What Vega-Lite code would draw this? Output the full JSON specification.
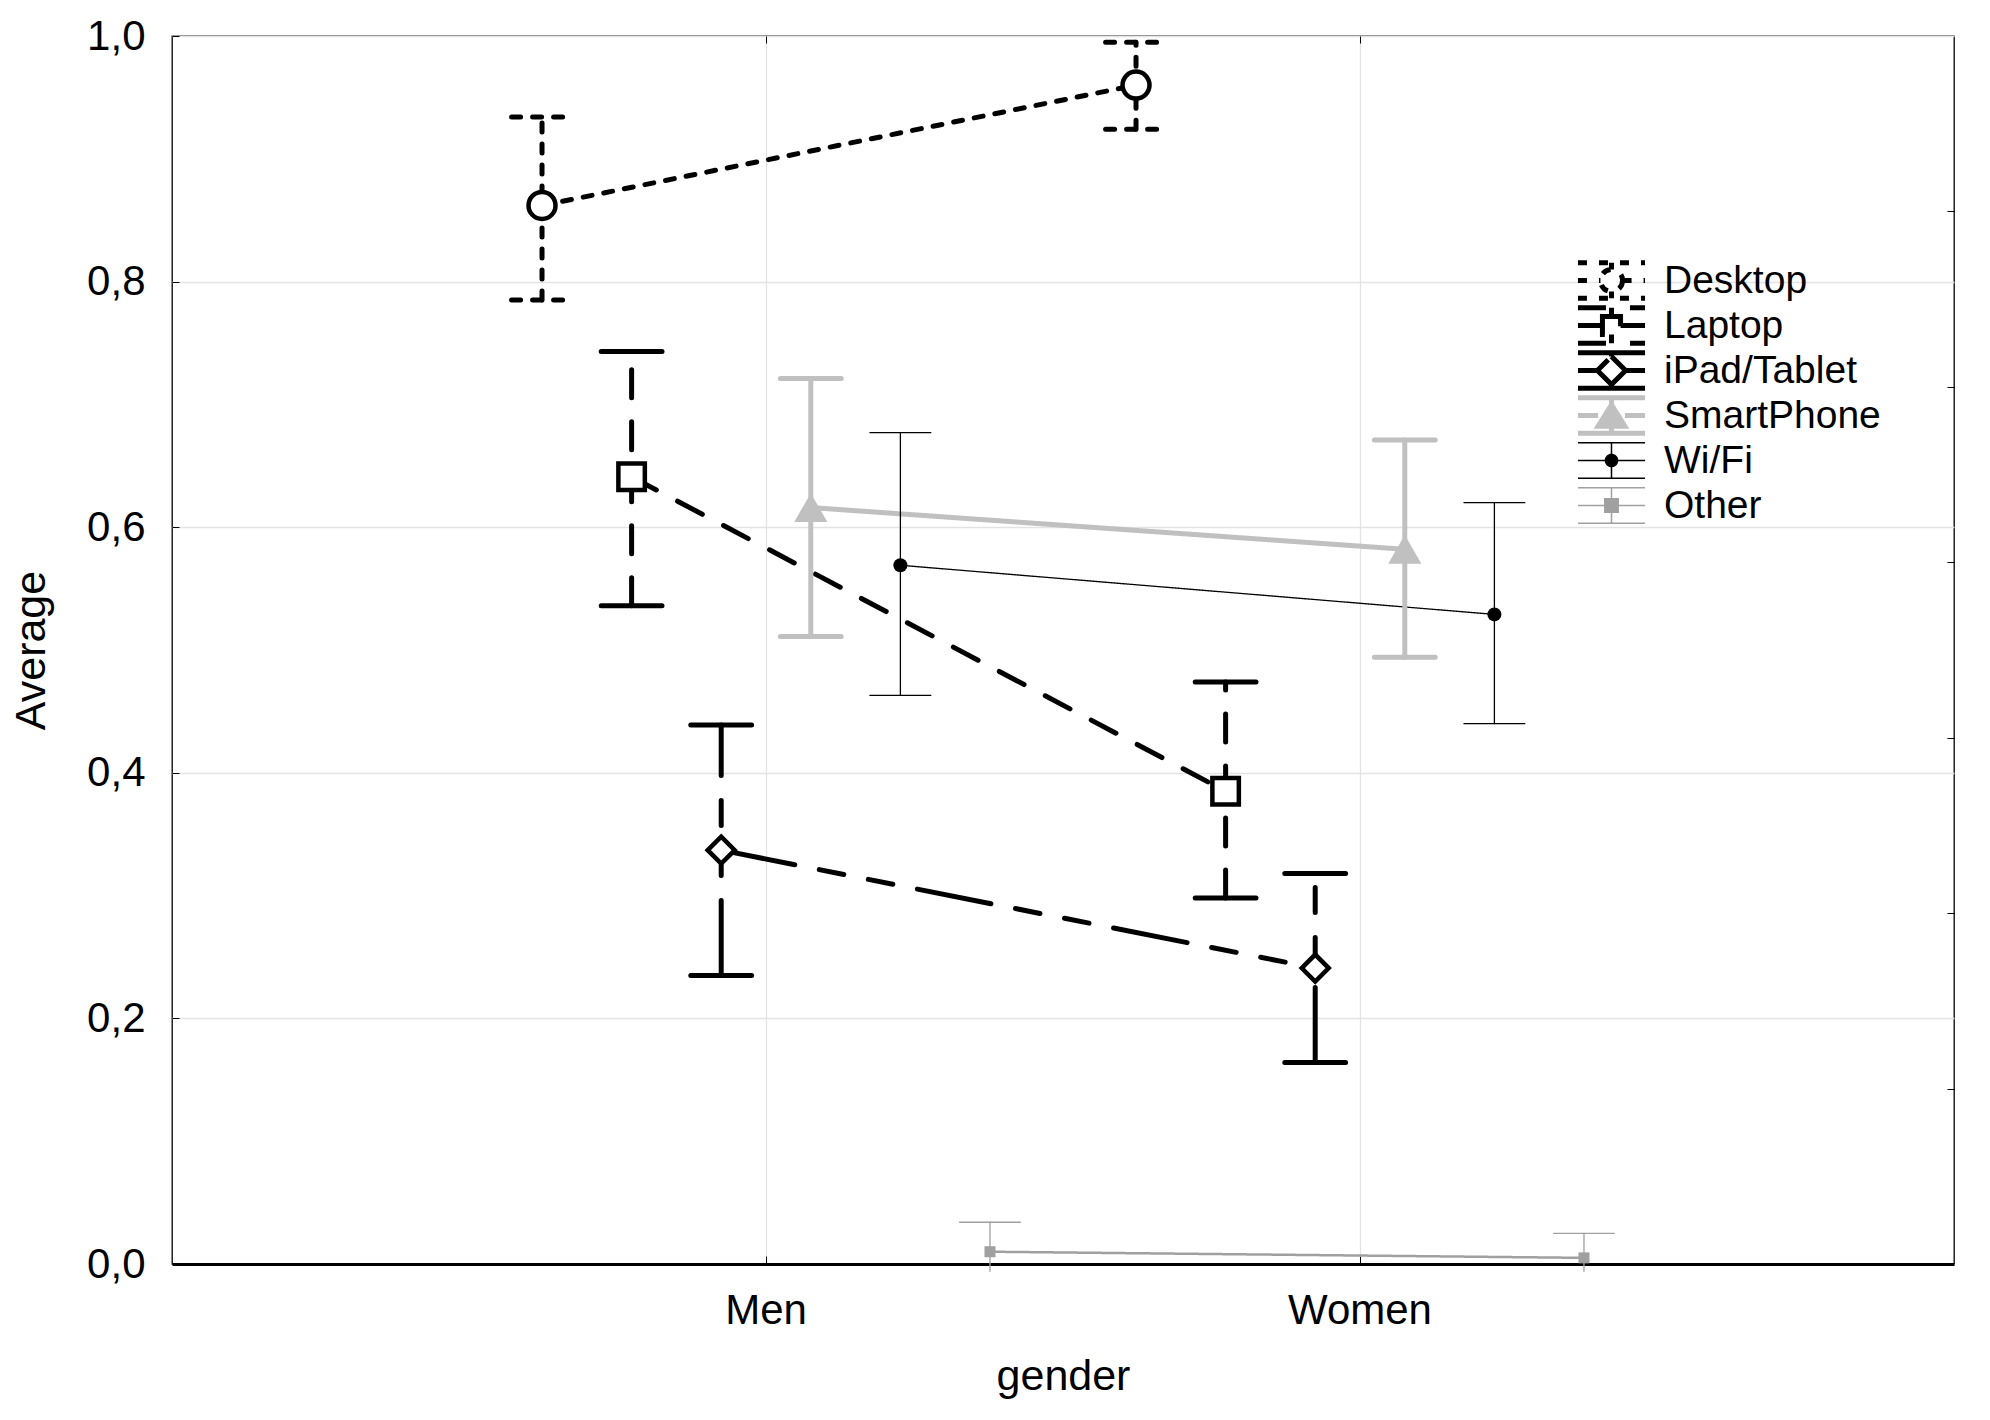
{
  "$schema": "https://vega.github.io/schema/vega-lite/v6.json",
  "width": 1782,
  "height": 1228,
  "autosize": "none",
  "padding": {"left": 172, "top": 36, "right": 36, "bottom": 156},
  "background": "white",
  "config": {
    "font": "Liberation Sans",
    "view": {"stroke": "black", "strokeWidth": 1.3},
    "axis": {
      "labelFontSize": 42,
      "titleFontSize": 43,
      "titleFontWeight": "normal",
      "labelColor": "black",
      "titleColor": "black",
      "tickColor": "black",
      "domainColor": "black",
      "gridColor": "#E3E3E3",
      "gridWidth": 1.3
    }
  },
  "data": {
    "values": [
      {"device": "Desktop", "gender": "Men", "mean": 0.862, "lower": 0.785, "upper": 0.934},
      {"device": "Desktop", "gender": "Women", "mean": 0.960, "lower": 0.924, "upper": 0.995},
      {"device": "Laptop", "gender": "Men", "mean": 0.641, "lower": 0.536, "upper": 0.743},
      {"device": "Laptop", "gender": "Women", "mean": 0.385, "lower": 0.298, "upper": 0.474},
      {"device": "iPad/Tablet", "gender": "Men", "mean": 0.337, "lower": 0.235, "upper": 0.439},
      {"device": "iPad/Tablet", "gender": "Women", "mean": 0.241, "lower": 0.164, "upper": 0.318},
      {"device": "SmartPhone", "gender": "Men", "mean": 0.616, "lower": 0.511, "upper": 0.721},
      {"device": "SmartPhone", "gender": "Women", "mean": 0.582, "lower": 0.494, "upper": 0.671},
      {"device": "Wi/Fi", "gender": "Men", "mean": 0.569, "lower": 0.463, "upper": 0.677},
      {"device": "Wi/Fi", "gender": "Women", "mean": 0.529, "lower": 0.440, "upper": 0.620},
      {"device": "Other", "gender": "Men", "mean": 0.010, "lower": -0.006, "upper": 0.034},
      {"device": "Other", "gender": "Women", "mean": 0.005, "lower": -0.006, "upper": 0.025}
    ]
  },
  "layer": [
    {
      "mark": {"type": "line", "strokeCap": "round", "strokeJoin": "round"},
      "encoding": {
        "x": {
          "field": "gender", "type": "nominal",
          "scale": {"domain": ["Men", "Women"], "paddingInner": 0, "paddingOuter": 0.5},
          "axis": {
            "orient": "bottom", "title": "gender", "labelAngle": 0, "grid": true,
            "bandPosition": 0.5, "tickSize": -8, "labelPadding": 34,
            "domainWidth": 3, "titlePadding": 24
          }
        },
        "xOffset": {
          "field": "device", "type": "nominal",
          "scale": {"domain": ["Desktop", "Laptop", "iPad/Tablet", "SmartPhone", "Wi/Fi", "Other"], "paddingInner": 0, "paddingOuter": 0.315}
        },
        "y": {
          "field": "mean", "type": "quantitative",
          "scale": {"domain": [0, 1], "nice": false, "zero": false},
          "axis": {
            "orient": "left", "title": "Average", "values": [0, 0.2, 0.4, 0.6, 0.8, 1],
            "labelExpr": "replace(format(datum.value, '.1f'), '.', ',')",
            "grid": true, "domain": false, "tickSize": -7, "labelPadding": 34, "titlePadding": 33
          }
        },
        "detail": {"field": "device"},
        "stroke": {
          "field": "device", "type": "nominal", "legend": null,
          "scale": {"domain": ["Desktop", "Laptop", "iPad/Tablet", "SmartPhone", "Wi/Fi", "Other"], "range": ["black", "black", "black", "#C0C0C0", "black", "#A0A0A0"]}
        },
        "strokeDash": {
          "field": "device", "type": "nominal", "legend": null,
          "scale": {"domain": ["Desktop", "Laptop", "iPad/Tablet", "SmartPhone", "Wi/Fi", "Other"], "range": [[9, 12], [28, 24], [75, 25, 25, 25, 25, 25], [1, 0], [1, 0], [1, 0]]}
        },
        "strokeWidth": {
          "field": "device", "type": "nominal", "legend": null,
          "scale": {"type": "ordinal", "domain": ["Desktop", "Laptop", "iPad/Tablet", "SmartPhone", "Wi/Fi", "Other"], "range": [5, 5, 5, 5, 1.3, 2.5]}
        }
      }
    },
    {
      "mark": {"type": "rule", "strokeCap": "round"},
      "encoding": {
        "x": {"field": "gender", "type": "nominal", "axis": null},
        "xOffset": {"field": "device", "type": "nominal"},
        "y": {"field": "lower", "type": "quantitative", "axis": null},
        "y2": {"field": "upper"},
        "stroke": {
          "field": "device", "type": "nominal", "legend": null,
          "scale": {"domain": ["Desktop", "Laptop", "iPad/Tablet", "SmartPhone", "Wi/Fi", "Other"], "range": ["black", "black", "black", "#C0C0C0", "black", "#A0A0A0"]}
        },
        "strokeDash": {
          "field": "device", "type": "nominal", "legend": null,
          "scale": {"domain": ["Desktop", "Laptop", "iPad/Tablet", "SmartPhone", "Wi/Fi", "Other"], "range": [[9, 12], [28, 24], [75, 25, 25, 25, 25, 25], [1, 0], [1, 0], [1, 0]]}
        },
        "strokeWidth": {
          "field": "device", "type": "nominal", "legend": null,
          "scale": {"type": "ordinal", "domain": ["Desktop", "Laptop", "iPad/Tablet", "SmartPhone", "Wi/Fi", "Other"], "range": [5, 5, 5, 5, 1.3, 1.3]}
        }
      }
    },
    {
      "mark": {"type": "point", "shape": "stroke", "size": 3700, "opacity": 1, "filled": false, "strokeCap": "round"},
      "encoding": {
        "x": {"field": "gender", "type": "nominal", "axis": null},
        "xOffset": {"field": "device", "type": "nominal"},
        "y": {"field": "upper", "type": "quantitative", "axis": null},
        "stroke": {
          "field": "device", "type": "nominal", "legend": null,
          "scale": {"domain": ["Desktop", "Laptop", "iPad/Tablet", "SmartPhone", "Wi/Fi", "Other"], "range": ["black", "black", "black", "#C0C0C0", "black", "#A0A0A0"]}
        },
        "strokeDash": {
          "field": "device", "type": "nominal", "legend": null,
          "scale": {"domain": ["Desktop", "Laptop", "iPad/Tablet", "SmartPhone", "Wi/Fi", "Other"], "range": [[9, 12], [1, 0], [1, 0], [1, 0], [1, 0], [1, 0]]}
        },
        "strokeWidth": {
          "field": "device", "type": "nominal", "legend": null,
          "scale": {"type": "ordinal", "domain": ["Desktop", "Laptop", "iPad/Tablet", "SmartPhone", "Wi/Fi", "Other"], "range": [5, 5, 5, 5, 1.3, 1.3]}
        }
      }
    },
    {
      "transform": [{"filter": "datum.lower >= 0"}],
      "mark": {"type": "point", "shape": "stroke", "size": 3700, "opacity": 1, "filled": false, "strokeCap": "round"},
      "encoding": {
        "x": {"field": "gender", "type": "nominal", "axis": null},
        "xOffset": {"field": "device", "type": "nominal"},
        "y": {"field": "lower", "type": "quantitative", "axis": null},
        "stroke": {
          "field": "device", "type": "nominal", "legend": null,
          "scale": {"domain": ["Desktop", "Laptop", "iPad/Tablet", "SmartPhone", "Wi/Fi", "Other"], "range": ["black", "black", "black", "#C0C0C0", "black", "#A0A0A0"]}
        },
        "strokeDash": {
          "field": "device", "type": "nominal", "legend": null,
          "scale": {"domain": ["Desktop", "Laptop", "iPad/Tablet", "SmartPhone", "Wi/Fi", "Other"], "range": [[9, 12], [1, 0], [1, 0], [1, 0], [1, 0], [1, 0]]}
        },
        "strokeWidth": {
          "field": "device", "type": "nominal", "legend": null,
          "scale": {"type": "ordinal", "domain": ["Desktop", "Laptop", "iPad/Tablet", "SmartPhone", "Wi/Fi", "Other"], "range": [5, 5, 5, 5, 1.3, 1.3]}
        }
      }
    },
    {
      "mark": {"type": "point", "filled": true, "opacity": 1},
      "encoding": {
        "x": {
          "field": "gender", "type": "nominal",
          "axis": {"orient": "top", "labels": false, "title": null, "grid": false, "domain": false, "bandPosition": 0.5, "tickSize": -7}
        },
        "xOffset": {"field": "device", "type": "nominal"},
        "y": {
          "field": "mean", "type": "quantitative",
          "axis": {
            "orient": "right", "labels": false, "title": null, "grid": false, "domain": false, "tickSize": -7,
            "values": [0.142857, 0.285714, 0.428571, 0.571429, 0.714286, 0.857143]
          }
        },
        "shape": {
          "field": "device", "type": "nominal", "legend": null,
          "scale": {"domain": ["Desktop", "Laptop", "iPad/Tablet", "SmartPhone", "Wi/Fi", "Other"], "range": ["circle", "square", "diamond", "triangle-up", "circle", "square"]}
        },
        "size": {
          "field": "device", "type": "nominal", "legend": null,
          "scale": {"type": "ordinal", "domain": ["Desktop", "Laptop", "iPad/Tablet", "SmartPhone", "Wi/Fi", "Other"], "range": [729, 700, 729, 1100, 196, 121]}
        },
        "fill": {
          "field": "device", "type": "nominal", "legend": null,
          "scale": {"domain": ["Desktop", "Laptop", "iPad/Tablet", "SmartPhone", "Wi/Fi", "Other"], "range": ["white", "white", "white", "#C0C0C0", "black", "#A0A0A0"]}
        },
        "stroke": {
          "field": "device", "type": "nominal", "legend": null,
          "scale": {"domain": ["Desktop", "Laptop", "iPad/Tablet", "SmartPhone", "Wi/Fi", "Other"], "range": ["black", "black", "black", "#C0C0C0", "black", "#A0A0A0"]}
        },
        "strokeWidth": {
          "field": "device", "type": "nominal", "legend": null,
          "scale": {"type": "ordinal", "domain": ["Desktop", "Laptop", "iPad/Tablet", "SmartPhone", "Wi/Fi", "Other"], "range": [4.5, 4.5, 4.5, 0, 0, 0]}
        }
      }
    },
    {
      "transform": [{"filter": "false"}],
      "mark": {"type": "point", "filled": false, "opacity": 1, "strokeCap": "round"},
      "encoding": {
        "shape": {
          "field": "device", "type": "nominal",
          "scale": {
            "domain": ["Desktop", "Laptop", "iPad/Tablet", "SmartPhone", "Wi/Fi", "Other"],
            "range": [
              "M-1,-0.53H1M-1,0H-0.33M0.33,0H1M-1,0.53H1M0,-0.53V-0.33M0,0.33V0.53M0.33,0A0.33,0.33,0,1,1,-0.33,0A0.33,0.33,0,1,1,0.33,0Z",
              "M-1,-0.53H1M-1,0H-0.27M0.27,0H1M-1,0.53H1M0,-0.53V-0.27M0,0.27V0.53M-0.27,-0.27H0.27V0.27H-0.27Z",
              "M-1,-0.53H1M-1,0H-0.42M0.42,0H1M-1,0.53H1M0,-0.53V-0.42M0,0.42V0.53M0,-0.42L0.42,0L0,0.42L-0.42,0Z",
              "M-1,-0.53H1M-1,0H-0.4M0.4,0H1M-1,0.53H1M0,-0.53V-0.32M0,0.32V0.53M0,-0.32L0.4,0.32H-0.4Z",
              "M-1,-0.53H1M-1,0H1M-1,0.53H1M0,-0.53V0.53M0.18,0A0.18,0.18,0,1,1,-0.18,0A0.18,0.18,0,1,1,0.18,0Z",
              "M-1,-0.53H1M-1,0H1M-1,0.53H1M0,-0.53V0.53M-0.2,-0.2H0.2V0.2H-0.2Z"
            ]
          },
          "legend": {
            "orient": "none", "legendX": 1403, "legendY": 222, "title": null,
            "labelFontSize": 39, "labelColor": "black", "labelFont": "Liberation Sans", "labelLimit": 500,
            "symbolSize": 4500, "labelOffset": 16, "rowPadding": 0, "clipHeight": 45, "padding": 0,
            "symbolOpacity": 1
          }
        },
        "stroke": {
          "field": "device", "type": "nominal",
          "scale": {"domain": ["Desktop", "Laptop", "iPad/Tablet", "SmartPhone", "Wi/Fi", "Other"], "range": ["black", "black", "black", "#C0C0C0", "black", "#A0A0A0"]}
        },
        "fill": {
          "field": "device", "type": "nominal",
          "scale": {"domain": ["Desktop", "Laptop", "iPad/Tablet", "SmartPhone", "Wi/Fi", "Other"], "range": ["white", "white", "white", "#C0C0C0", "black", "#A0A0A0"]}
        },
        "strokeDash": {
          "field": "device", "type": "nominal",
          "scale": {"domain": ["Desktop", "Laptop", "iPad/Tablet", "SmartPhone", "Wi/Fi", "Other"], "range": [[9, 12], [28, 24], [75, 25, 25, 25, 25, 25], [1, 0], [1, 0], [1, 0]]}
        },
        "strokeWidth": {
          "field": "device", "type": "nominal",
          "scale": {"type": "ordinal", "domain": ["Desktop", "Laptop", "iPad/Tablet", "SmartPhone", "Wi/Fi", "Other"], "range": [5, 5, 5, 5, 1.5, 1.5]}
        }
      }
    }
  ],
  "resolve": {
    "scale": {
      "stroke": "independent",
      "strokeDash": "independent",
      "strokeWidth": "independent",
      "shape": "independent",
      "fill": "independent",
      "size": "independent"
    },
    "axis": {"x": "independent", "y": "independent"}
  }
}
